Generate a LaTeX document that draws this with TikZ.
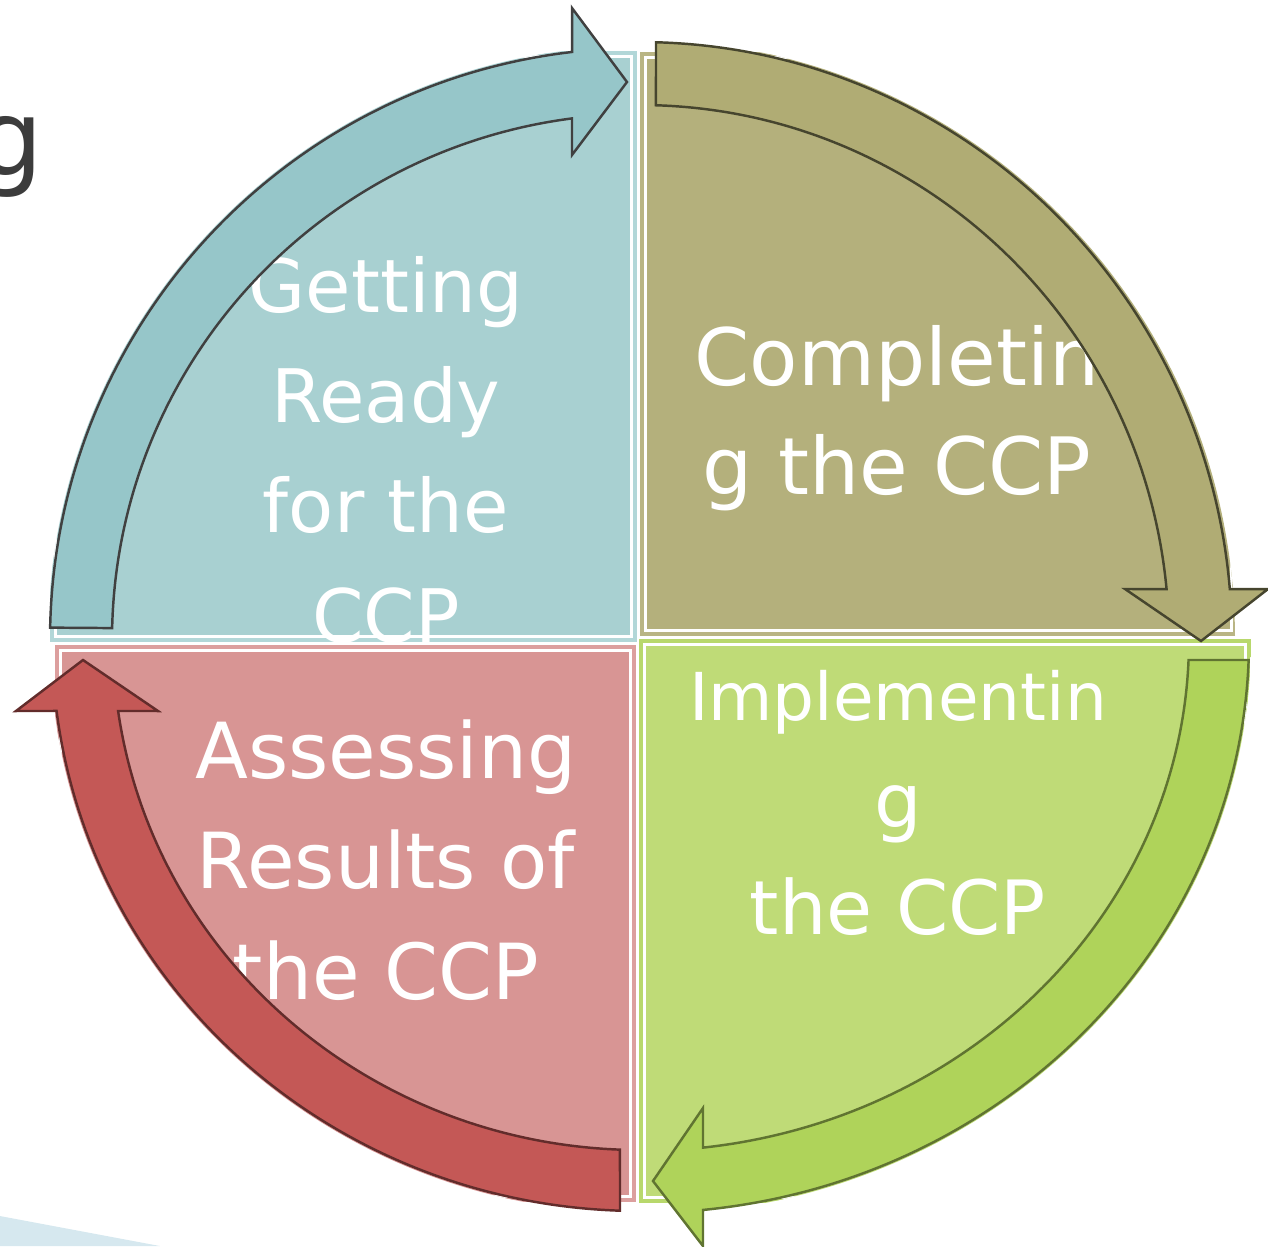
\documentclass[tikz,border=0pt]{standalone}
\usepackage{fontspec}
\setmainfont{DejaVu Sans}
\definecolor{tealfill}{HTML}{A8D0D1}
\definecolor{tealline}{HTML}{B2D7D8}
\definecolor{olivefill}{HTML}{B4B07C}
\definecolor{oliveline}{HTML}{B9B584}
\definecolor{greenfill}{HTML}{BFDB77}
\definecolor{greenline}{HTML}{B8D86C}
\definecolor{pinkfill}{HTML}{D89594}
\definecolor{pinkline}{HTML}{DC9F9E}
\definecolor{tealarrow}{HTML}{96C6C9}
\definecolor{olivearrow}{HTML}{B0AC74}
\definecolor{greenarrow}{HTML}{AFD35A}
\definecolor{redarrow}{HTML}{C45856}
\definecolor{titlegray}{HTML}{3C3C3C}
\definecolor{sliver}{HTML}{D6E8EF}
\tikzset{
  quad/.style={line width=0.9pt},
  inset/.style={draw=white, line width=0.6pt},
  steplabel/.style={text=white, align=center, inner sep=0pt},
  cyclearrow/.style={line width=0.7pt, line join=miter},
}
\begin{document}
\begin{tikzpicture}
\useasboundingbox (-6.40,-6.06) rectangle (6.28,6.40);
% the four quadrants, cut by the ring
\begin{scope}
  \clip (0,0) ellipse [x radius=5.92, y radius=5.94];
  \draw[quad, fill=tealfill, draw=tealline] (-5.88,0.00) rectangle (-0.05,5.87);
  \draw[inset] (-5.845,0.035) rectangle (-0.085,5.835);
\end{scope}
\begin{scope}
  \clip (0,0) ellipse [x radius=5.95, y radius=6.00];
  \draw[quad, fill=olivefill, draw=oliveline] (0.02,0.06) rectangle (5.95,5.86);
  \draw[inset] (0.055,0.095) rectangle (5.915,5.825);
\end{scope}
\begin{scope}
  \clip (0,0) ellipse [x radius=6.11, y radius=5.75];
  \draw[quad, fill=greenfill, draw=greenline] (0.01,-0.01) rectangle (6.09,-5.61);
  \draw[inset] (0.045,-0.045) rectangle (6.055,-5.575);
\end{scope}
\begin{scope}
  \clip (0,0) ellipse [x radius=5.90, y radius=5.73];
  \draw[quad, fill=pinkfill, draw=pinkline] (-5.83,-0.07) rectangle (-0.06,-5.60);
  \draw[inset] (-5.795,-0.105) rectangle (-0.095,-5.565);
\end{scope}
% labels
\node[steplabel, font=\fontsize{21}{31.3}\selectfont] (ready) at (-2.54,1.90) {Getting\\Ready\\for the\\CCP};
\node[steplabel, font=\fontsize{22.5}{31}\selectfont] (complete) at (2.57,2.22) {Completin\\g the CCP};
\node[steplabel, font=\fontsize{21.3}{30.4}\selectfont] (implement) at (2.58,-1.63) {{\fontsize{18.8}{30.4}\selectfont Implementin}\\g\\the CCP};
\node[steplabel, font=\fontsize{22}{31.5}\selectfont] (assess) at (-2.54,-2.20) {Assessing\\Results of\\the CCP};
% bits of the slide behind
\node[text=titlegray, font=\fontsize{30}{36}\selectfont, anchor=base east, inner sep=0pt] (title) at (-5.96,4.65) {g};
\fill[sliver] (-6.40,-5.76) -- (-4.80,-6.06) -- (-6.40,-6.06) -- cycle;
% cycle arrows
\draw[cyclearrow, fill=tealarrow, draw=black!75] (178.8:5.90 and 5.92)
  arc[start angle=178.8, end angle=96.6, x radius=5.90, y radius=5.92]
  -- (-0.68,6.32) -- (-0.13,5.58) -- (-0.68,4.85) -- (97.4:5.28 and 5.26)
  arc[start angle=97.4, end angle=178.7, x radius=5.28, y radius=5.26] -- cycle;
\draw[cyclearrow, fill=olivearrow, draw=olivearrow!40!black] (88.45:5.92 and 5.98)
  arc[start angle=88.45, end angle=4.89, x radius=5.92, y radius=5.98]
  -- (6.28,0.51) -- (5.61,-0.01) -- (4.85,0.51) -- (5.47:5.29 and 5.35)
  arc[start angle=5.47, end angle=88.27, x radius=5.29, y radius=5.35] -- cycle;
\draw[cyclearrow, fill=greenarrow, draw=greenarrow!55!black] (-2.0:6.09 and 5.73)
  arc[start angle=-2.0, end angle=-84.06, x radius=6.09, y radius=5.73]
  -- (0.63,-6.06) -- (0.13,-5.41) -- (0.63,-4.68) -- (-83.41:5.49 and 5.11)
  arc[start angle=-83.41, end angle=-2.24, x radius=5.49, y radius=5.11] -- cycle;
\draw[cyclearrow, fill=redarrow, draw=redarrow!50!black] (268.05:5.88 and 5.71)
  arc[start angle=268.05, end angle=187.14, x radius=5.88, y radius=5.71]
  -- (-6.24,-0.71) -- (-5.57,-0.20) -- (-4.82,-0.71) -- (188.0:5.27 and 5.10)
  arc[start angle=188.0, end angle=267.82, x radius=5.27, y radius=5.10] -- cycle;
\end{tikzpicture}
\end{document}
